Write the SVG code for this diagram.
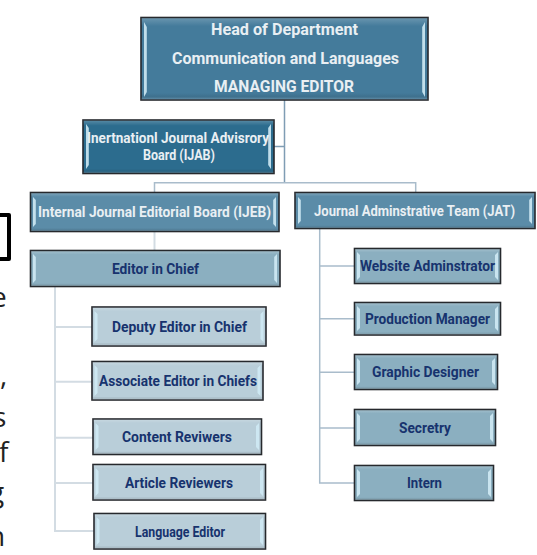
<svg xmlns="http://www.w3.org/2000/svg" width="537" height="555" viewBox="0 0 537 555">
<defs>
<linearGradient id="bev" x1="0" y1="0" x2="0" y2="1">
<stop offset="0" stop-color="#fff" stop-opacity=".2"/><stop offset=".06" stop-color="#fff" stop-opacity=".08"/><stop offset=".1" stop-color="#fff" stop-opacity="0"/>
<stop offset=".92" stop-color="#000" stop-opacity="0"/><stop offset=".96" stop-color="#000" stop-opacity=".08"/><stop offset="1" stop-color="#fff" stop-opacity=".2"/>
</linearGradient>
</defs>
<style>
.n{stroke:#26292d;stroke-width:1.6}
.o{fill:url(#bev)}
.d{fill:#447b9b}.m{fill:#5b8ca8}.l{fill:#8bafc0}.p{fill:#b9ced9}.x{fill:#2c6c8e}
.h{fill:#cfeaf4;opacity:.9}
.t{font-family:Roboto,"Liberation Sans",sans-serif;font-weight:700;text-anchor:middle;font-size:14px}
.big{font-size:16.500px}
.w{fill:#e9eff3}.b{fill:#17336e}
.c{fill:none;stroke-width:1.5}
.c1{stroke:#7f9db4}.c2{stroke:#a9bccb}.c3{stroke:#d3dce3;stroke-width:2}
.f{font-family:"Open Sans","Liberation Sans",sans-serif;font-size:28px;fill:#222}
</style>
<g id="connectors">
<path class="c c1" d="M284.500 100V183M274 146.500H284.500"/>
<path class="c c2" d="M154.500 192V182.700H415.700V192"/>
<path class="c c3" d="M154.500 232V250"/>
<path class="c c2" d="M319.700 229V483H354M319.700 266H354M319.700 318.700H354M319.700 372.300H354M319.700 428H354"/>
<path class="c c3" d="M55 287V531H94M55 327H92M55 381.700H92M55 437.700H93M55 483H93"/>
</g>
<g id="fragments">
<path d="M0 215H9V259H0" fill="none" stroke="#000" stroke-width="4" stroke-linejoin="round"/>
<text class="f" x="-9" y="307">e</text>
<text class="f" x="0" y="385">,</text>
<text class="f" x="-7" y="427">s</text>
<text class="f" x="-1" y="462">f</text>
<text class="f" x="-11" y="502">g</text>
<text class="f" x="-12" y="546">n</text>
</g>
<g id="head"><rect class="n d" x="141" y="17.500" width="287" height="82.500"/><rect class="o" x="141.500" y="18" width="286" height="81.500"/><path class="h" d="M144 22L146.800 27V92L144 97ZM425 22L422.200 27V92L425 97Z"/>
<text class="t w big" x="284.500" y="34.500" textLength="147" lengthAdjust="spacingAndGlyphs">Head of Department</text>
<text class="t w big" x="285.500" y="63.500" textLength="227" lengthAdjust="spacingAndGlyphs">Communication and Languages</text>
<text class="t w big" x="284" y="92" textLength="140" lengthAdjust="spacingAndGlyphs">MANAGING EDITOR</text></g>
<g id="ijab"><rect class="n x" x="83" y="120" width="191" height="53.500"/><rect class="o" x="83.500" y="120.500" width="190" height="52.500"/><path class="h" d="M86 124L88.800 128V165L86 169ZM271 124L268.200 128V165L271 169Z"/>
<text class="t w" x="178" y="142.500" textLength="182" lengthAdjust="spacingAndGlyphs">Inertnationl Journal Advisrory</text><text class="t w" x="179" y="159.500" textLength="72" lengthAdjust="spacingAndGlyphs">Board (IJAB)</text></g>
<g id="ijeb"><rect class="n m" x="30.500" y="192.500" width="248.500" height="39"/><rect class="o" x="31" y="193" width="247.500" height="38"/><path class="h" d="M33 197L35.800 200V224L33 227ZM276 197L273.200 200V224L276 227Z"/>
<text class="t w" x="154.500" y="216.500" textLength="233" lengthAdjust="spacingAndGlyphs">Internal Journal  Editorial  Board (IJEB)</text></g>
<g id="jat"><rect class="n m" x="295" y="192.500" width="240" height="36"/><rect class="o" x="295.500" y="193" width="239" height="35"/><path class="h" d="M298 197L300.800 200V221L298 224ZM532 197L529.200 200V221L532 224Z"/>
<text class="t w" x="414.500" y="215.500" textLength="201" lengthAdjust="spacingAndGlyphs">Journal Adminstrative Team (JAT)</text></g>
<g id="eic"><rect class="n l" x="30.500" y="250.500" width="249.500" height="36"/><rect class="o" x="31" y="251" width="248.500" height="35"/><path class="h" d="M33 254L35.800 257V280L33 283ZM277 254L274.200 257V280L277 283Z"/>
<text class="t b" x="155.500" y="273.500" textLength="87" lengthAdjust="spacingAndGlyphs">Editor in Chief</text></g>
<g id="deputy"><rect class="n p" x="92" y="307" width="174" height="39"/><rect class="o" x="92.500" y="307.500" width="173" height="38"/><path class="h" d="M94.500 311L97.500 314V339L94.500 342ZM263.500 311L260.500 314V339L263.500 342Z"/>
<text class="t b" x="179.500" y="331.500" textLength="135" lengthAdjust="spacingAndGlyphs">Deputy Editor in Chief</text></g>
<g id="associate"><rect class="n p" x="92" y="361.500" width="171" height="38.500"/><rect class="o" x="92.500" y="362" width="170" height="37.500"/><path class="h" d="M94.500 365L97.500 368V393L94.500 396ZM260.500 365L257.500 368V393L260.500 396Z"/>
<text class="t b" x="178" y="386" textLength="158" lengthAdjust="spacingAndGlyphs">Associate Editor in Chiefs</text></g>
<g id="content"><rect class="n p" x="93" y="419" width="168.500" height="35.500"/><rect class="o" x="93.500" y="419.500" width="167.500" height="34.500"/><path class="h" d="M95.500 423L98.500 426V447L95.500 450ZM259 423L256 426V447L259 450Z"/>
<text class="t b" x="177" y="441.500" textLength="110" lengthAdjust="spacingAndGlyphs">Content Reviwers</text></g>
<g id="article"><rect class="n p" x="93" y="464.500" width="172.500" height="35.500"/><rect class="o" x="93.500" y="465" width="171.500" height="34.500"/><path class="h" d="M95.500 468L98.500 471V493L95.500 496ZM263 468L260 471V493L263 496Z"/>
<text class="t b" x="179" y="487.500" textLength="108" lengthAdjust="spacingAndGlyphs">Article Reviewers</text></g>
<g id="language"><rect class="n p" x="94" y="513.500" width="171.500" height="35.500"/><rect class="o" x="94.500" y="514" width="170.500" height="34.500"/><path class="h" d="M96.500 517L99.500 520V542L96.500 545ZM263 517L260 520V542L263 545Z"/>
<text class="t b" x="180" y="537" textLength="90" lengthAdjust="spacingAndGlyphs">Language Editor</text></g>
<g id="website"><rect class="n l" x="354.500" y="248.500" width="146" height="35"/><rect class="o" x="355" y="249" width="145" height="34"/><path class="h" d="M357 252L360 255V277L357 280ZM498 252L495 255V277L498 280Z"/>
<text class="t b" x="427.500" y="270.500" textLength="135" lengthAdjust="spacingAndGlyphs">Website Adminstrator</text></g>
<g id="production"><rect class="n l" x="354.500" y="302.500" width="146" height="32.500"/><rect class="o" x="355" y="303" width="145" height="31.500"/><path class="h" d="M357 306L360 309V328L357 331ZM498 306L495 309V328L498 331Z"/>
<text class="t b" x="427.500" y="323.500" textLength="125" lengthAdjust="spacingAndGlyphs">Production Manager</text></g>
<g id="graphic"><rect class="n l" x="354.500" y="354.500" width="143" height="35"/><rect class="o" x="355" y="355" width="142" height="34"/><path class="h" d="M357 358L360 361V382L357 385ZM495 358L492 361V382L495 385Z"/>
<text class="t b" x="425.500" y="376.500" textLength="107" lengthAdjust="spacingAndGlyphs">Graphic Designer</text></g>
<g id="secretary"><rect class="n l" x="354.500" y="409.500" width="141" height="36"/><rect class="o" x="355" y="410" width="140" height="35"/><path class="h" d="M357 413L360 416V439L357 442ZM493 413L490 416V439L493 442Z"/>
<text class="t b" x="425" y="432.500" textLength="52" lengthAdjust="spacingAndGlyphs">Secretry</text></g>
<g id="intern"><rect class="n l" x="354.500" y="465.500" width="139" height="35"/><rect class="o" x="355" y="466" width="138" height="34"/><path class="h" d="M357 469L360 472V494L357 497ZM491 469L488 472V494L491 497Z"/>
<text class="t b" x="424.500" y="487.500" textLength="35" lengthAdjust="spacingAndGlyphs">Intern</text></g>
</svg>
